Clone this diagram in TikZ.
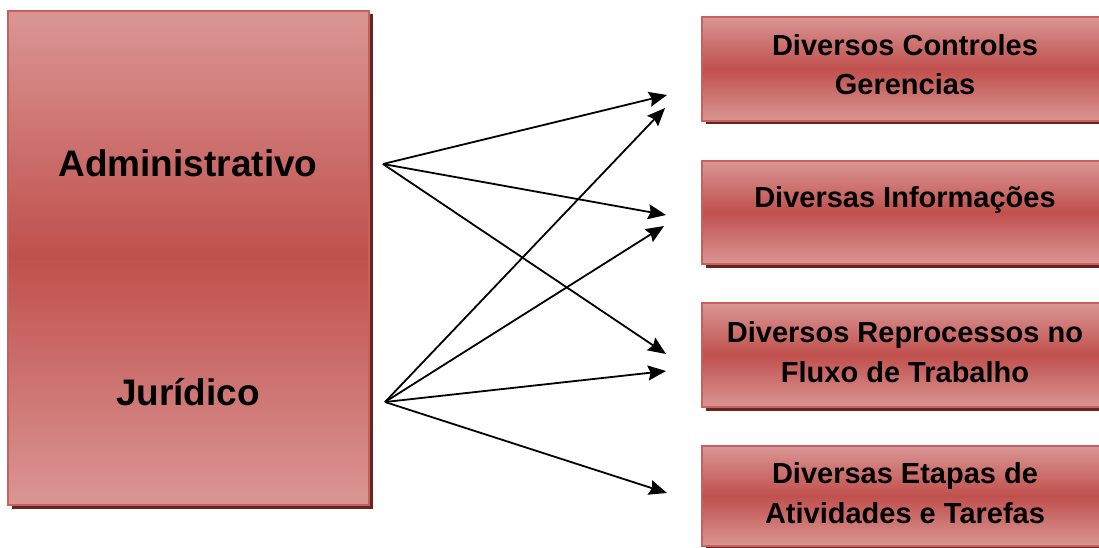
\documentclass[tikz,border=0pt]{standalone}
\usepackage{fontspec}
\setmainfont{Liberation Sans}
\usepackage{xcolor}
\usepackage{tikz}
\usetikzlibrary{arrows.meta, positioning, shapes, shadows}
\definecolor{boxlight}{RGB}{218,150,148}
\definecolor{boxmid}{RGB}{192,80,77}
\definecolor{boxedge}{RGB}{200,96,93}
\definecolor{boxshadow}{RGB}{104,36,34}
\tikzset{
  redbox/.style={rectangle, draw=boxedge, line width=1.5pt, inner sep=0pt,
    top color=boxlight, bottom color=boxlight, middle color=boxmid,
    drop shadow={shadow xshift=3.5pt, shadow yshift=-3.5pt, fill=boxshadow, opacity=1}},
  bigtext/.style={font=\fontsize{37}{44}\selectfont\bfseries, inner sep=0pt, anchor=base},
  smalltext/.style={font=\fontsize{29}{39.5}\selectfont\bfseries, inner sep=0pt, anchor=base, align=center},
}
\tikzstyle{arrow} = [line width=1.8pt, -{Stealth[length=18pt, width=15pt, inset=2.5pt]}]

\begin{document}
\begin{tikzpicture}[x=1pt, y=-1pt]
        \useasboundingbox (0,0) rectangle (1099,548);
        % left box
        \node[redbox, minimum width=361pt, minimum height=494pt] (areas) at (188.5,258) {};
        \node[bigtext] (adm) at (188,177) {Administrativo};
        \node[bigtext] (jur) at (188,405) {Jurídico};
        % right boxes
        \node[redbox, minimum width=406pt, minimum height=104pt] (controles) at (905,69) {};
        \node[redbox, minimum width=406pt, minimum height=103pt] (informacoes) at (905,212.5) {};
        \node[redbox, minimum width=406pt, minimum height=104pt] (reprocessos) at (905,355) {};
        \node[redbox, minimum width=406pt, minimum height=100pt] (etapas) at (905,496) {};
        \node[smalltext] (controles-txt) at (905,95) {Diversos Controles\\Gerencias};
        \node[smalltext] (informacoes-txt) at (905,207) {Diversas Informações};
        \node[smalltext] (reprocessos-txt) at (905,382) {Diversos Reprocessos no\\Fluxo de Trabalho};
        \node[smalltext] (etapas-txt) at (905,523) {Diversas Etapas de\\Atividades e Tarefas};
        % arrow ends
        \coordinate (adm-src) at (383,164);
        \coordinate (jur-src) at (385,402);
        \coordinate (ctrl-a) at (667,95);
        \coordinate (ctrl-j) at (665,108);
        \coordinate (info-a) at (666,215);
        \coordinate (info-j) at (664,226);
        \coordinate (repr-a) at (666,354);
        \coordinate (repr-j) at (666,371);
        \coordinate (etap-j) at (667,493);
        \draw[arrow] (adm-src) -- (ctrl-a);
        \draw[arrow] (adm-src) -- (info-a);
        \draw[arrow] (adm-src) -- (repr-a);
        \draw[arrow] (jur-src) -- (ctrl-j);
        \draw[arrow] (jur-src) -- (info-j);
        \draw[arrow] (jur-src) -- (repr-j);
        \draw[arrow] (jur-src) -- (etap-j);
\end{tikzpicture}
\end{document}
